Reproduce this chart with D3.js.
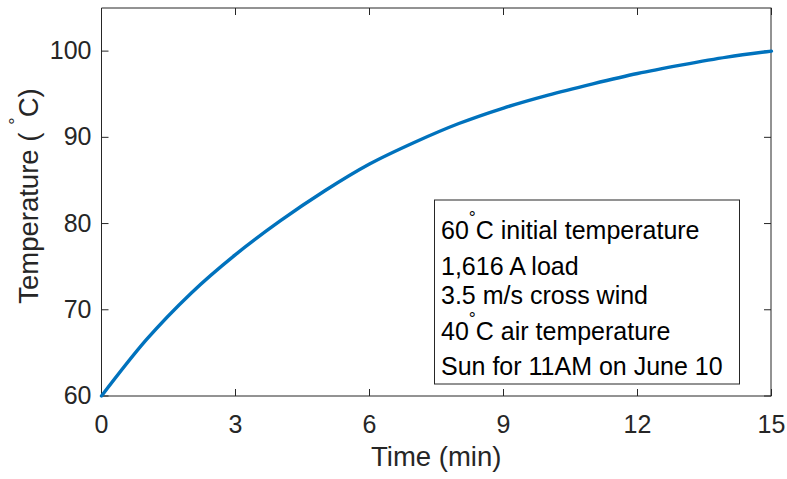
<!DOCTYPE html>
<html>
<head>
<meta charset="utf-8">
<script src="https://cdn.jsdelivr.net/npm/d3@7"></script>
<style>
  body { margin: 0; background: #fff; }
  svg { display: block; font-family: "Liberation Sans", Arial, Helvetica, sans-serif; }
</style>
</head>
<body>
<svg id="chart" width="787" height="479"></svg>
<script>
// Conductor temperature rise after the load step
const timeMin = [0, 1, 2, 3, 4, 5, 6, 7, 8, 9, 10, 11, 12, 13, 14, 15];
const temperatureC = [60, 66.5, 71.9, 76.4, 80.3, 83.8, 86.9, 89.4, 91.6, 93.4, 94.9, 96.2, 97.4, 98.4, 99.3, 100.0];
const xTicks = [0, 3, 6, 9, 12, 15];
const yTicks = [60, 70, 80, 90, 100];
const xDomain = [0, 15];
const yDomain = [60, 105];
const xLabel = "Time (min)";
const yLabel = "Temperature ( °C)";
const noteLines = [
  "60°C initial temperature",
  "1,616 A load",
  "3.5 m/s cross wind",
  "40°C air temperature",
  "Sun for 11AM on June 10"
];

const ink = "#262626";
const tickFont = 25;
const labelFont = 27.5;
const svg = d3.select("#chart");

const x = d3.scaleLinear().domain(xDomain).range([101.5, 771.5]);
const y = d3.scaleLinear().domain(yDomain).range([396, 8]);
const plotLeft = x.range()[0], plotRight = 771, plotTop = y.range()[1], plotBottom = y.range()[0];

// writes a string into a text node, raising any "°" as a TeX-style superscript
function richText(sel, str, supSize, lift) {
  const parts = str.split("°");
  parts.forEach((p, i) => {
    if (i > 0) {
      sel.append("tspan").attr("font-size", supSize).attr("dy", -lift).text("°");
      sel.append("tspan").attr("dy", lift).text(p);
    } else {
      sel.append("tspan").text(p);
    }
  });
}

function styleAxis(g) {
  g.selectAll("path, line").attr("stroke", ink).attr("stroke-width", 1);
  g.selectAll("text").attr("fill", ink).attr("font-size", tickFont)
    .attr("font-family", '"Liberation Sans", Arial, Helvetica, sans-serif');
}

// axes box with inward ticks on all four sides
svg.append("g").attr("transform", `translate(0,${plotBottom})`)
  .call(d3.axisBottom(x).tickValues(xTicks).tickSizeInner(-7).tickSizeOuter(0).tickPadding(19).offset(0))
  .call(styleAxis);
svg.append("g").attr("transform", `translate(0,${plotTop})`)
  .call(d3.axisTop(x).tickValues(xTicks).tickSizeInner(-7).tickSizeOuter(0).tickFormat("").offset(0))
  .call(styleAxis);
svg.append("g").attr("transform", `translate(${plotLeft},0)`)
  .call(d3.axisLeft(y).tickValues(yTicks).tickSizeInner(-7).tickSizeOuter(0).tickPadding(10).offset(0))
  .call(styleAxis);
svg.append("g").attr("transform", `translate(${plotRight},0)`)
  .call(d3.axisRight(y).tickValues(yTicks).tickSizeInner(-7).tickSizeOuter(0).tickFormat("").offset(0))
  .call(styleAxis);

// temperature curve
svg.append("path")
  .datum(timeMin.map((t, i) => [t, temperatureC[i]]))
  .attr("fill", "none")
  .attr("stroke", "#0072BD")
  .attr("stroke-width", 3.4)
  .attr("stroke-linejoin", "round")
  .attr("stroke-linecap", "round")
  .attr("d", d3.line().x(d => x(d[0])).y(d => y(d[1])).curve(d3.curveMonotoneX));

// axis titles
svg.append("text")
  .attr("x", (plotLeft + plotRight) / 2).attr("y", 466)
  .attr("text-anchor", "middle").attr("font-size", labelFont).attr("fill", ink)
  .text(xLabel);

const yl = svg.append("text")
  .attr("transform", `translate(38,196) rotate(-90)`)
  .attr("text-anchor", "middle").attr("font-size", labelFont).attr("fill", ink);
richText(yl, yLabel, labelFont * 0.7, 16);

// annotation box
const box = svg.append("g");
box.append("rect")
  .attr("x", 434.5).attr("y", 200).attr("width", 305).attr("height", 184)
  .attr("fill", "#fff").attr("stroke", ink).attr("stroke-width", 1);
const baselines = [238.5, 275, 304, 339.5, 374.5];
noteLines.forEach((line, i) => {
  const t = box.append("text")
    .attr("x", 441).attr("y", baselines[i])
    .attr("font-size", tickFont).attr("fill", "#000");
  richText(t, line, tickFont * 0.7, 14.5);
});
</script>
</body>
</html>
